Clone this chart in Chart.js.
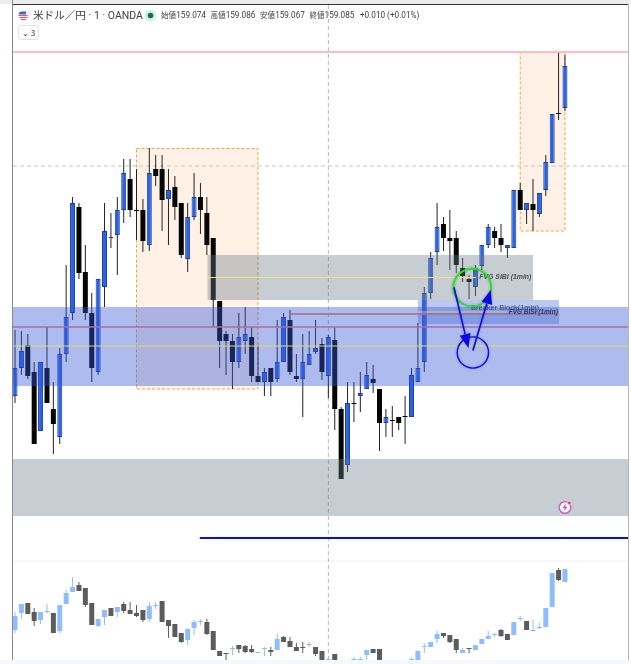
<!DOCTYPE html>
<html lang="ja">
<head>
<meta charset="utf-8">
<title>米ドル／円</title>
<script src="https://cdn.jsdelivr.net/npm/chart.js@4/dist/chart.umd.min.js"></script>
<style>
html,body{margin:0;padding:0;background:#fff;width:631px;height:664px;overflow:hidden;font-family:"Noto Sans CJK JP","Noto Sans",Roboto,sans-serif}
#chart{position:absolute;left:0;top:0;filter:blur(.35px)}
.abs{position:absolute}
#topbar{left:0;top:0;width:631px;height:4px;background:#ececec}
#topline{left:12px;top:4px;width:617px;height:1px;background:#333}
#leftline{left:11.5px;top:0;width:1.6px;height:660px;background:#8a8a8a}
#rightline{left:628px;top:4px;width:1px;height:656px;background:#b5b5b5}
#bottom{left:0;top:660px;width:631px;height:4px;background:#f5f8fc}
#title{left:33px;top:7px;font-size:10.6px;line-height:16px;color:#3d3d3d;white-space:nowrap}
#title span{font-family:Roboto,sans-serif;font-size:10.5px}
#ohlc{left:161px;top:8px;font-size:7.6px;line-height:14px;color:#3d3d3d;white-space:nowrap}
#ohlc b{font-weight:400;font-family:Roboto,sans-serif;font-size:8.2px;margin-right:4.5px}
#btn{left:18px;top:25px;width:21px;height:15px;border:1px solid #e0e3eb;border-radius:3px;box-sizing:border-box;font-size:8px;line-height:13px;color:#333;text-align:center;background:#fff}
</style>
</head>
<body>
<canvas id="chart" width="631" height="664"></canvas>
<div class="abs" id="topbar"></div>
<div class="abs" id="topline"></div>
<div class="abs" id="leftline"></div>
<div class="abs" id="rightline"></div>
<div class="abs" id="bottom"></div>
<svg class="abs" style="left:17px;top:8px" width="15" height="14" viewBox="0 0 15 14">
  <circle cx="10" cy="6" r="4.5" fill="#f3eef0"/>
  <path d="M1.5 6.5 a3.5 3.5 0 0 1 3.5-3h4v3z" fill="#2f6fd6"/>
  <path d="M1.5 7.5h9M2.5 9.5h8" stroke="#ef5350" stroke-width="1.2"/>
  <path d="M4 11.5h5" stroke="#ef5350" stroke-width="1.2"/>
</svg>
<div class="abs" id="title">米ドル／円<span> · 1 · OANDA</span></div>
<svg class="abs" style="left:144px;top:9px" width="13" height="13" viewBox="0 0 13 13">
  <circle cx="6.5" cy="6.5" r="6" fill="#d8efe9"/><circle cx="6.5" cy="6.5" r="2.8" fill="#0b6f5c"/>
</svg>
<div class="abs" id="ohlc">始値<b>159.074</b>高値<b>159.086</b>安値<b>159.067</b>終値<b>159.085</b><b style="margin-left:1px">+0.010 (+0.01%)</b></div>
<div class="abs" id="btn">⌄ 3</div>
<svg class="abs" style="left:556px;top:499px" width="18" height="17" viewBox="0 0 18 17">
  <circle cx="9" cy="8.5" r="5.8" fill="#fff" stroke="#c565d4" stroke-width="1.6"/>
  <path d="M10 4.5 6.8 9h2l-1 3.6L11.2 8H9.2z" fill="#b44ac6"/>
  <circle cx="13.3" cy="4" r="2" fill="#f0415a" stroke="#fff" stroke-width=".6"/>
</svg>
<script>
// ---- main pane candles (USD/JPY, 1 minute) ----
const priceOpen = [159.0208,159.0264,159.0310,159.0256,159.0138,159.0264,159.0182,159.0126,159.0292,159.0374,159.0586,159.0456,159.0374,159.0256,159.0426,159.0524,159.0530,159.0580,159.0642,159.0580,159.0580,159.0510,159.0662,159.0662,159.0602,159.0626,159.0594,159.0482,159.0566,159.0606,159.0574,159.0524,159.0398,159.0332,159.0318,159.0276,159.0318,159.0326,159.0248,159.0236,159.0264,159.0242,159.0276,159.0360,159.0248,159.0242,159.0270,159.0296,159.0312,159.0248,159.0320,159.0182,159.0070,159.0194,159.0208,159.0222,159.0242,159.0222,159.0154,159.0160,159.0166,159.0168,159.0166,159.0236,159.0276,159.0414,159.0496,159.0552,159.0524,159.0524,159.0464,159.0442,159.0426,159.0468,159.0510,159.0538,159.0524,159.0504,159.0504,159.0620,159.0580,159.0592,159.0572,159.0620,159.0674,159.0774,159.0784];
const priceClose = [159.0264,159.0298,159.0248,159.0112,159.0276,159.0194,159.0152,159.0292,159.0366,159.0594,159.0454,159.0374,159.0264,159.0442,159.0538,159.0526,159.0580,159.0654,159.0580,159.0578,159.0518,159.0654,159.0648,159.0600,159.0620,159.0586,159.0490,159.0566,159.0606,159.0580,159.0510,159.0400,159.0318,159.0318,159.0276,159.0326,159.0332,159.0248,159.0236,159.0256,159.0236,159.0276,159.0366,159.0256,159.0242,159.0276,159.0292,159.0304,159.0256,159.0326,159.0182,159.0042,159.0194,159.0192,159.0214,159.0250,159.0234,159.0154,159.0166,159.0158,159.0154,159.0166,159.0250,159.0264,159.0414,159.0484,159.0546,159.0524,159.0518,159.0470,159.0448,159.0436,159.0464,159.0510,159.0546,159.0524,159.0510,159.0510,159.0620,159.0580,159.0594,159.0580,159.0614,159.0676,159.0772,159.0772,159.0868];
const priceHigh = [159.0340,159.0338,159.0332,159.0276,159.0276,159.0346,159.0236,159.0304,159.0470,159.0606,159.0594,159.0510,159.0414,159.0442,159.0594,159.0574,159.0606,159.0682,159.0682,159.0662,159.0602,159.0704,159.0690,159.0690,159.0662,159.0648,159.0594,159.0594,159.0654,159.0634,159.0606,159.0524,159.0398,159.0338,159.0332,159.0374,159.0386,159.0346,159.0310,159.0264,159.0264,159.0360,159.0374,159.0380,159.0292,159.0332,159.0338,159.0360,159.0324,159.0330,159.0346,159.0186,159.0236,159.0236,159.0256,159.0276,159.0270,159.0222,159.0182,159.0188,159.0166,159.0208,159.0264,159.0354,159.0426,159.0496,159.0594,159.0566,159.0580,159.0538,159.0484,159.0450,159.0470,159.0510,159.0552,159.0546,159.0552,159.0510,159.0620,159.0634,159.0594,159.0642,159.0614,159.0690,159.0772,159.0896,159.0890];
const priceLow = [159.0194,159.0250,159.0242,159.0112,159.0138,159.0194,159.0092,159.0112,159.0276,159.0360,159.0442,159.0360,159.0236,159.0250,159.0386,159.0504,159.0450,159.0554,159.0566,159.0520,159.0496,159.0498,159.0628,159.0538,159.0510,159.0560,159.0484,159.0456,159.0560,159.0532,159.0490,159.0346,159.0264,159.0250,159.0222,159.0264,159.0292,159.0236,159.0236,159.0208,159.0208,159.0236,159.0276,159.0250,159.0236,159.0166,159.0270,159.0292,159.0240,159.0204,159.0140,159.0042,159.0056,159.0156,159.0176,159.0222,159.0214,159.0098,159.0126,159.0126,159.0140,159.0112,159.0166,159.0236,159.0256,159.0402,159.0470,159.0498,159.0460,159.0454,159.0436,159.0402,159.0408,159.0460,159.0504,159.0504,159.0496,159.0484,159.0504,159.0580,159.0552,159.0538,159.0566,159.0608,159.0674,159.0760,159.0778];

// ---- lower pane candles ----
const lowerOpen = [100.30,100.47,100.57,100.48,100.40,100.48,100.47,100.29,100.56,100.68,100.75,100.72,100.57,100.34,100.43,100.52,100.48,100.56,100.50,100.47,100.50,100.41,100.54,100.59,100.40,100.36,100.27,100.20,100.32,100.38,100.38,100.29,100.09,100.07,100.11,100.15,100.14,100.11,100.07,100.11,100.10,100.10,100.23,100.19,100.13,100.13,100.15,100.13,100.09,100.00,100.06,99.96,99.92,100.00,100.00,100.05,100.11,100.11,99.96,99.92,99.96,99.92,100.00,99.98,100.13,100.13,100.21,100.27,100.25,100.21,100.07,100.12,100.10,100.16,100.21,100.25,100.30,100.26,100.25,100.41,100.39,100.29,100.32,100.33,100.53,100.90,100.78];
const lowerClose = [100.44,100.56,100.46,100.39,100.48,100.49,100.27,100.55,100.67,100.73,100.69,100.55,100.35,100.41,100.50,100.44,100.53,100.49,100.46,100.44,100.40,100.54,100.55,100.38,100.34,100.23,100.18,100.31,100.38,100.39,100.26,100.10,100.04,100.06,100.12,100.11,100.08,100.08,100.08,100.12,100.08,100.21,100.18,100.13,100.09,100.12,100.16,100.06,99.98,100.01,99.96,99.92,99.96,100.01,100.01,100.10,100.07,99.96,99.92,99.96,99.92,99.96,100.01,100.09,100.14,100.18,100.26,100.24,100.18,100.10,100.10,100.11,100.15,100.21,100.24,100.26,100.24,100.20,100.38,100.42,100.30,100.30,100.33,100.52,100.87,100.80,100.91];
const lowerHigh = [100.48,100.56,100.57,100.52,100.48,100.56,100.47,100.55,100.70,100.83,100.78,100.72,100.57,100.41,100.50,100.52,100.53,100.58,100.58,100.55,100.50,100.58,100.58,100.59,100.40,100.36,100.27,100.32,100.40,100.41,100.41,100.29,100.09,100.07,100.14,100.15,100.15,100.15,100.08,100.13,100.13,100.26,100.24,100.23,100.17,100.18,100.18,100.13,100.09,100.03,100.06,99.96,99.96,100.03,100.03,100.10,100.11,100.11,99.96,99.96,99.96,99.96,100.02,100.09,100.17,100.18,100.29,100.27,100.25,100.21,100.12,100.12,100.15,100.21,100.29,100.27,100.31,100.26,100.38,100.44,100.39,100.40,100.37,100.52,100.87,100.92,100.91];
const lowerLow = [100.27,100.42,100.46,100.34,100.36,100.47,100.27,100.27,100.56,100.68,100.69,100.53,100.35,100.33,100.35,100.44,100.43,100.47,100.46,100.43,100.38,100.38,100.51,100.38,100.22,100.23,100.17,100.15,100.25,100.35,100.25,100.10,100.04,100.00,100.05,100.07,100.07,100.07,100.07,100.04,100.04,100.10,100.18,100.13,100.09,100.07,100.13,100.04,99.98,99.99,99.96,99.90,99.90,99.99,99.99,100.00,100.07,99.96,99.90,99.90,99.90,99.90,99.99,99.98,100.07,100.13,100.17,100.22,100.17,100.07,100.07,100.07,100.10,100.16,100.21,100.23,100.23,100.20,100.25,100.39,100.30,100.28,100.31,100.33,100.53,100.79,100.78];

// ---- drawings on the price pane: [first candle, last candle, upper price, lower price] ----
const xMin = -0.3127, xMax = 95.856;
const priceMax = 159.099, priceMin = 158.968;
const lowerMax = 106.55, lowerMin = 100.00;
const orangeBoxLeft  = [19, 38, 159.0703, 159.0222];
const orangeBoxRight = [79, 86, 159.0896, 159.0538];
const greyBox        = [30.1, 81, 159.0490, 159.0400];
const blueBand       = [xMin, xMax, 159.0386, 159.0228];
const greyBand       = [xMin, xMax, 159.0082, 158.9968];
const breakerBox     = [63, 85.07, 159.0400, 159.0352];
// horizontal levels: [from candle, to candle, price]
const pinkLevel    = [xMin, xMax, 159.0896];
const dashedLevel  = [xMin, xMax, 159.0668];
const purpleLevel  = [xMin, xMax, 159.0346];
const yellowLevel  = [xMin, xMax, 159.0308];
const sibiLevel    = [30.1, 72.1, 159.0445];
const bisiLevel    = [63, 77, 159.0376];
const breakerLevel = [43, 85, 159.0372];
const blueLevel    = [28.9, xMax, 158.9924];
const crosshairCandle = 49;
// circles: [candle, price, radius in candles]
const greenCircle = [71.5, 159.0425, 2.95];
const blueCircle  = [71.6, 159.0295, 2.45];
// arrows: [from candle, from price, to candle, to price]
const arrowDown = [68.65, 159.0425, 70.9, 159.0304];
const arrowUp   = [71.6, 159.0299, 74.4, 159.0420];
// labels: [text, candle, price]
const labelSibi = ["FVG SIBI (1min)", 72.6, 159.0445];
const labelBreaker = ["Breaker Block(1min)", 71.3, 159.0384];
const labelBisi = ["FVG BISI (1min)", 77.2, 159.0376];

const N = priceOpen.length;
const idx = Array.from({length:N},(_,i)=>i);
const UP='#2a62e6', UPB='#1d3f95', DN='#050505', UPL='#8fbdfb', DNL='#5c5c5c';

function bodies(o,c){return idx.map(i=>({x:i,y:[o[i],c[i]]}));}
function wicks(h,l){return idx.map(i=>({x:i,y:[l[i],h[i]]}));}
function hline(a,color,width,dash,order){
  return {type:'line',data:[{x:a[0],y:a[2]},{x:a[1],y:a[2]}],yAxisID:'y',borderColor:color,borderWidth:width,borderDash:dash||[],pointRadius:0,order:order||10};
}

const zonesPlugin={
  id:'zones',
  afterDatasetDraw(chart,args){
    const name=chart.data.datasets[args.index].label;
    if(name!=='price' && name!=='lower') return;
    const {ctx,scales:{x,y}}=chart;
    const box=(z,fill,stroke)=>{
      const l=x.getPixelForValue(z[0]),r=x.getPixelForValue(z[1]),t=y.getPixelForValue(z[2]),b=y.getPixelForValue(z[3]);
      ctx.fillStyle=fill;ctx.fillRect(l,t,r-l,b-t);
      if(stroke){ctx.save();ctx.strokeStyle=stroke;ctx.lineWidth=1;ctx.setLineDash([3,2]);ctx.strokeRect(l,t,r-l,b-t);ctx.restore();}
    };
    if(name==='lower'){
      box(orangeBoxLeft,'rgba(255,150,60,.13)','#f6a23f');
      box(orangeBoxRight,'rgba(255,150,60,.13)','#f6a23f');
      return;
    }
    box(blueBand,'rgba(50,85,215,.40)');
    box(greyBand,'rgba(108,125,140,.38)');
    box(greyBox,'rgba(108,125,140,.38)');
    box(breakerBox,'rgba(60,95,215,.34)');
  },
  afterDatasetsDraw(chart){
    const {ctx,scales:{x,y}}=chart;
    const circle=(c,color,w)=>{
      const r=Math.abs(x.getPixelForValue(c[0]+c[2])-x.getPixelForValue(c[0]));
      ctx.beginPath();ctx.arc(x.getPixelForValue(c[0]),y.getPixelForValue(c[1]),r,0,Math.PI*2);
      ctx.strokeStyle=color;ctx.lineWidth=w;ctx.stroke();
    };
    const arrow=a=>{
      const x0=x.getPixelForValue(a[0]),y0=y.getPixelForValue(a[1]),x1=x.getPixelForValue(a[2]),y1=y.getPixelForValue(a[3]);
      const t=Math.atan2(y1-y0,x1-x0),L=14,W=5.5;
      const bx=x1-L*Math.cos(t),by=y1-L*Math.sin(t);
      ctx.strokeStyle='#0a0ae6';ctx.fillStyle='#0a0ae6';ctx.lineWidth=1.6;
      ctx.beginPath();ctx.moveTo(x0,y0);ctx.lineTo(bx,by);ctx.stroke();
      ctx.beginPath();ctx.moveTo(x1,y1);ctx.lineTo(bx-W*Math.sin(t),by+W*Math.cos(t));ctx.lineTo(bx+W*Math.sin(t),by-W*Math.cos(t));ctx.closePath();ctx.fill();
    };
    const label=(l,font,color)=>{
      ctx.font=font;ctx.fillStyle=color;ctx.textBaseline='middle';ctx.textAlign='left';
      ctx.fillText(l[0],x.getPixelForValue(l[1]),y.getPixelForValue(l[2]));
    };
    ctx.save();
    label(labelBreaker,'7.5px "Liberation Sans"','#36466e');
    label(labelBisi,'italic bold 6.5px "Liberation Sans"','#2e3a60');
    label(labelSibi,'italic bold 6.9px "Liberation Sans"','#4a4f55');
    ctx.shadowColor='rgba(0,0,0,.25)';ctx.shadowBlur=3;
    circle(greenCircle,'#22e622',2);
    circle(blueCircle,'#0a0ae6',1.4);
    arrow(arrowDown);arrow(arrowUp);
    ctx.restore();
  }
};

new Chart(document.getElementById('chart'),{
  type:'bar',
  data:{
    datasets:[
      {label:'lowerWick',data:wicks(lowerHigh,lowerLow),yAxisID:'yb',grouped:false,barThickness:1,borderWidth:0,inflateAmount:0,order:60,
        backgroundColor:idx.map(i=>lowerClose[i]>lowerOpen[i]?UPL:DNL)},
      {label:'lower',data:bodies(lowerOpen,lowerClose),yAxisID:'yb',grouped:false,barThickness:5,borderWidth:0,inflateAmount:0,order:50,
        backgroundColor:idx.map(i=>lowerClose[i]>lowerOpen[i]?UPL:DNL)},
      {label:'priceWick',data:wicks(priceHigh,priceLow),yAxisID:'y',grouped:false,barThickness:1,borderWidth:0,inflateAmount:0,order:40,
        backgroundColor:'#222'},
      {label:'price',data:bodies(priceOpen,priceClose),yAxisID:'y',grouped:false,barThickness:5,borderSkipped:false,inflateAmount:0,order:30,
        borderWidth:idx.map(i=>priceClose[i]>priceOpen[i]?1:0),
        backgroundColor:idx.map(i=>priceClose[i]>priceOpen[i]?UP:DN),
        borderColor:idx.map(i=>priceClose[i]>priceOpen[i]?UPB:DN)},
      hline(pinkLevel,'#ffbcc4',2),
      hline(dashedLevel,'#c4c4c4',1,[4,3],45),
      hline(purpleLevel,'rgba(170,110,170,.75)',2),
      hline(yellowLevel,'#e6dc5a',1.2),
      hline(sibiLevel,'#eee27a',1),
      hline(bisiLevel,'rgba(220,215,140,.8)',1),
      hline(breakerLevel,'rgba(165,110,140,.8)',2),
      hline(blueLevel,'#0a0ae6',2.2),
      {type:'line',data:[{x:xMin,y:lowerMin+0.99},{x:xMax,y:lowerMin+0.99}],yAxisID:'yb',borderColor:'#eeeeee',borderWidth:1,pointRadius:0,order:55},
      {type:'line',data:[{x:crosshairCandle,y:priceMax},{x:crosshairCandle,y:priceMin}],yAxisID:'y',borderColor:'#b4b4b4',borderWidth:1,borderDash:[4,3],pointRadius:0,order:45}
    ]
  },
  options:{
    responsive:false,animation:false,devicePixelRatio:1,
    layout:{padding:{left:13,right:3,top:5,bottom:4}},
    plugins:{legend:{display:false},tooltip:{enabled:false}},
    scales:{
      x:{type:'linear',min:xMin,max:xMax,offset:false,display:false,grid:{display:false}},
      y:{type:'linear',min:priceMin,max:priceMax,display:false,grid:{display:false}},
      yb:{type:'linear',min:lowerMin,max:lowerMax,display:false,grid:{display:false}}
    }
  },
  plugins:[zonesPlugin]
});
</script>
</body>
</html>
